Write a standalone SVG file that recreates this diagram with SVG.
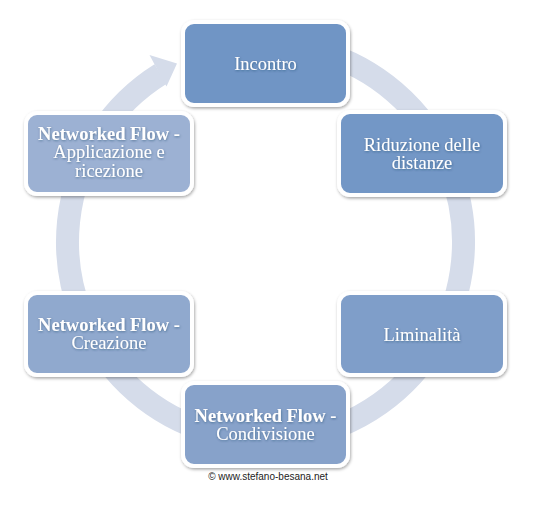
<svg xmlns="http://www.w3.org/2000/svg" width="538" height="507" viewBox="0 0 538 507">
  <defs>
    <filter id="shadow" x="-10%" y="-10%" width="125%" height="130%">
      <feDropShadow dx="0.8" dy="1.5" stdDeviation="1.6" flood-color="#000" flood-opacity="0.35"/>
    </filter>
    <filter id="tshadow" x="-10%" y="-30%" width="120%" height="160%">
      <feDropShadow dx="0.5" dy="1" stdDeviation="0.8" flood-color="#1f3354" flood-opacity="0.45"/>
    </filter>
    <style>
      .box { stroke: #ffffff; stroke-width: 4; filter: url(#shadow); }
      .lbl { font-family: "Liberation Serif", "Times New Roman", serif; font-size: 18.5px; fill: #ffffff; text-anchor: middle; filter: url(#tshadow); }
      .b { font-weight: bold; }
      .ring { fill: none; stroke: #d5dcea; stroke-width: 23; }
      .head { fill: #d5dcea; }
      .credit { font-family: "Liberation Sans", Arial, sans-serif; font-size: 10px; fill: #222222; text-anchor: middle; }
    </style>
  </defs>
  <rect x="0" y="0" width="538" height="507" fill="#ffffff"/>

  <g id="connectors">
    <path class="ring" d="M320.1,51.7 A198,198 0 1 1 160.6,74.1"/>
    <polygon class="head" points="149.5,55 177,63.5 166.5,86.5"/>
  </g>

  <g id="node-incontro">
    <rect class="box" x="183" y="22" width="165" height="83" rx="11" fill="#7095c5"/>
    <text class="lbl" x="265.5" y="69.5">Incontro</text>
  </g>

  <g id="node-riduzione">
    <rect class="box" x="339" y="112" width="166" height="83" rx="11" fill="#7397c6"/>
    <text class="lbl" x="422" y="150.5">Riduzione delle</text>
    <text class="lbl" x="422" y="169">distanze</text>
  </g>

  <g id="node-liminalita">
    <rect class="box" x="339" y="293" width="166" height="82" rx="11" fill="#7f9ec9"/>
    <text class="lbl" x="422" y="340.5">Liminalità</text>
  </g>

  <g id="node-condivisione">
    <rect class="box" x="183" y="383" width="165" height="83" rx="11" fill="#87a2ca"/>
    <text class="lbl b" x="265.5" y="421.5">Networked Flow -</text>
    <text class="lbl" x="265.5" y="440">Condivisione</text>
  </g>

  <g id="node-creazione">
    <rect class="box" x="26" y="293" width="166" height="82" rx="11" fill="#90a9ce"/>
    <text class="lbl b" x="109" y="330.5">Networked Flow -</text>
    <text class="lbl" x="109" y="349">Creazione</text>
  </g>

  <g id="node-applicazione">
    <rect class="box" x="26" y="113" width="166" height="81" rx="11" fill="#9cb1d3"/>
    <text class="lbl b" x="109" y="139.5">Networked Flow -</text>
    <text class="lbl" x="109" y="158">Applicazione e</text>
    <text class="lbl" x="109" y="176.5">ricezione</text>
  </g>

  <text class="credit" x="268" y="480">© www.stefano-besana.net</text>
</svg>
